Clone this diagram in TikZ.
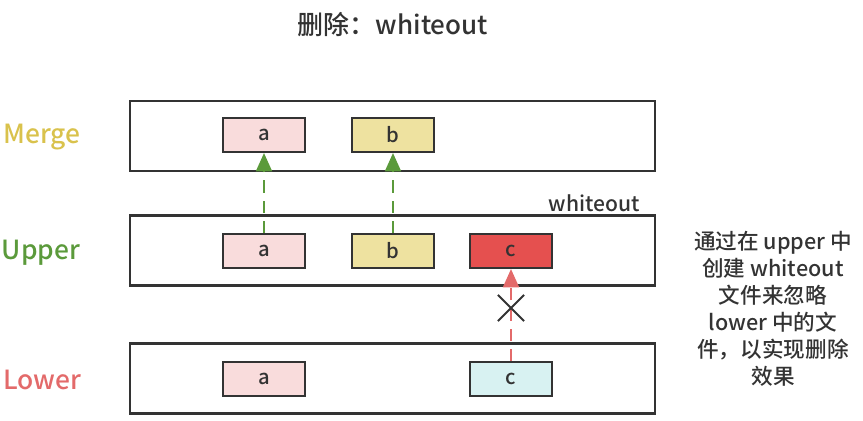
\documentclass[tikz,border=0pt]{standalone}
\usepackage{fontspec}
\setmainfont{Noto Sans CJK SC}[UprightFont=* Medium,BoldFont=* Bold]
\usetikzlibrary{positioning,arrows.meta,shapes.misc}
\definecolor{mergeC}{HTML}{D9C24C}
\definecolor{upperC}{HTML}{5B9A3B}
\definecolor{lowerC}{HTML}{E36A6A}
\definecolor{fileA}{HTML}{F9DCDC}
\definecolor{fileB}{HTML}{EEE2A0}
\definecolor{fileC}{HTML}{E5504F}
\definecolor{fileD}{HTML}{D8F2F2}
\definecolor{lineC}{HTML}{333333}

\begin{document}
\begin{tikzpicture}[x=0.02cm,y=-0.02cm,
  layer/.style={draw=lineC,line width=1.3pt,minimum width=525*0.02cm,minimum height=70*0.02cm,inner sep=0pt},
  file/.style={draw=lineC,line width=1.1pt,minimum width=82*0.02cm,minimum height=34*0.02cm,inner sep=0pt,font=\fontsize{11.5}{13}\selectfont,text=lineC},
  tag/.style={font=\fontsize{15}{17}\selectfont},
  link/.style={dashed,dash pattern=on 7pt off 4.5pt,line width=1.5pt,-{Triangle[length=10.5pt,width=9pt]}}]
\useasboundingbox (0,0) rectangle (863,420);
% titre
\node (title) at (393,25) [font=\fontsize{14.8}{17}\selectfont,text=lineC] {删除：whiteout};

% les trois couches
\node (merge) at (392.5,136) [layer] {};
\node (upper) at (392.5,250.5) [layer] {};
\node (lower) at (392.5,378.5) [layer] {};
\node at (42,137) [tag,text=mergeC] {Merge};
\node at (41,253) [tag,text=upperC] {Upper};
\node at (42,380) [tag,text=lowerC] {Lower};

% fichiers
\node (mergeA) at (264,135) [file,fill=fileA] {a};
\node (mergeB) at (393,135) [file,fill=fileB] {b};
\node (upperA) at (264,251) [file,fill=fileA] {a};
\node (upperB) at (393,251) [file,fill=fileB] {b};
\node (upperC) at (511,251) [file,fill=fileC] {c};
\node (lowerA) at (264,379) [file,fill=fileA] {a};
\node (lowerC) at (511,379) [file,fill=fileD] {c};
\node (wtag) at (594,203) [font=\fontsize{12}{14}\selectfont,text=lineC] {whiteout};

% liens
\draw[link,upperC] (upperA.north) -- (mergeA.south);
\draw[link,upperC] (upperB.north) -- (mergeB.south);
\draw[link,lowerC] (lowerC.north) -- (upperC.south);
\node (block) at (511,308) [cross out,draw=lineC,line width=1.2pt,minimum size=24*0.02cm,inner sep=0pt] {};

% explication
\node (note) at (773,309) [align=center,text=lineC,font=\fontsize{12.3}{15.4}\selectfont] {通过在 upper 中\\创建 whiteout\\文件来忽略\\lower 中的文\\件，以实现删除\\效果};
\end{tikzpicture}
\end{document}
